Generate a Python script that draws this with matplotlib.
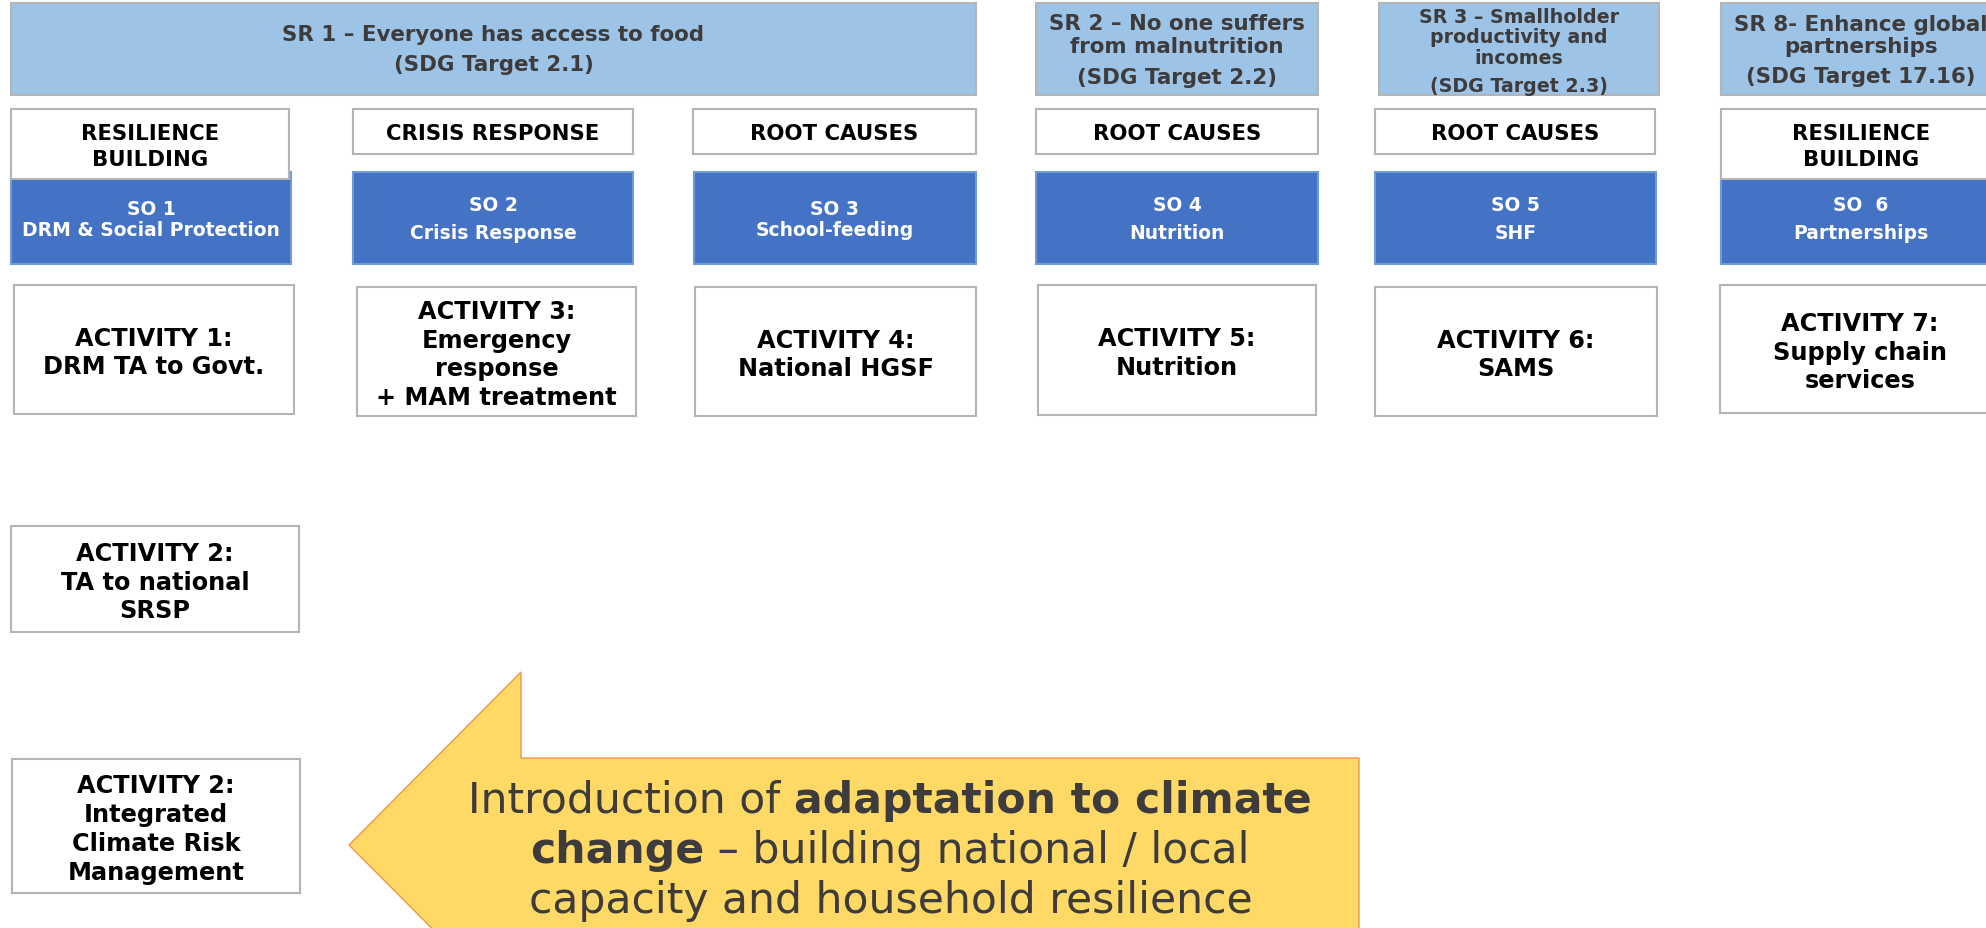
import matplotlib
matplotlib.use("Agg")
import matplotlib.pyplot as plt
from matplotlib.patches import Rectangle, Polygon

plt.rcParams['font.family'] = ['DejaVu Sans']

# ---------------- content ----------------
sr_titles = [
    ["SR 1 – Everyone has access to food", "(SDG Target 2.1)"],
    ["SR 2 – No one suffers", "from malnutrition", "(SDG Target 2.2)"],
    ["SR 3 – Smallholder", "productivity and", "incomes", "(SDG Target 2.3)"],
    ["SR 8- Enhance global", "partnerships", "(SDG Target 17.16)"],
]
focus_labels = [
    ["RESILIENCE", "BUILDING"],
    ["CRISIS RESPONSE"],
    ["ROOT CAUSES"],
    ["ROOT CAUSES"],
    ["ROOT CAUSES"],
    ["RESILIENCE", "BUILDING"],
]
so_labels = [
    ["SO 1", "DRM & Social Protection"],
    ["SO 2", "Crisis Response"],
    ["SO 3", "School-feeding"],
    ["SO 4", "Nutrition"],
    ["SO 5", "SHF"],
    ["SO  6", "Partnerships"],
]
activity_labels = [
    ["ACTIVITY 1:", "DRM TA to Govt."],
    ["ACTIVITY 3:", "Emergency", "response", "+ MAM treatment"],
    ["ACTIVITY 4:", "National HGSF"],
    ["ACTIVITY 5:", "Nutrition"],
    ["ACTIVITY 6:", "SAMS"],
    ["ACTIVITY 7:", "Supply chain", "services"],
]
extra_activity_labels = [
    ["ACTIVITY 2:", "TA to national", "SRSP"],
    ["ACTIVITY 2:", "Integrated", "Climate Risk", "Management"],
]
arrow_lines = [
    [("Introduction of ", "normal"), ("adaptation to climate", "bold")],
    [("change", "bold"), (" – building national / local", "normal")],
    [("capacity and household resilience", "normal")],
]

# ---------------- layout (pixel space) ----------------
W, H = 1986, 929
sr_boxes = [(11, 976), (1036, 1318), (1379, 1659), (1721, 2001)]
sr_y = (4, 96)
sr_sizes = [15.4, 15.4, 13.7, 15.4]
sr_steps = [(22.5, 30), (22.5, 31), (20.5, 28), (22, 30)]
sr_centers = [50, 51, 51.5, 51]

focus_boxes = [(11, 289), (353, 633), (693, 976), (1036, 1318), (1375, 1655), (1721, 2001)]
focus_bottoms = [180, 155, 155, 155, 155, 180]
focus_top = 110

so_boxes = [(11, 291), (353, 633), (694, 976), (1036, 1318), (1375, 1656), (1721, 2001)]
so_y = (173, 265)
so_steps = [21, 28, 21, 28, 28, 28]

act_boxes = [(14, 294, 286, 415), (357, 636, 288, 417), (695, 976, 288, 417),
             (1038, 1316, 286, 416), (1375, 1657, 288, 417), (1720, 2000, 286, 414)]
extra_boxes = [(11, 299, 527, 633), (12, 300, 760, 894)]

C_SR = "#9DC3E6"
C_SO = "#4472C4"
C_SO_EDGE = "#6F9BD8"
C_GRAY = "#B4B4B4"
C_DARK = "#3D3B3B"
C_ARROW = "#FFD966"
C_ARROW_EDGE = "#F0964A"

fig = plt.figure(figsize=(W / 100, H / 100), dpi=100)
ax = fig.add_axes([0, 0, 1, 1])
ax.set_xlim(0, W)
ax.set_ylim(H, 0)
ax.axis("off")


def box(x0, x1, y0, y1, fc, ec, z=1, lw=1.5):
    ax.add_patch(Rectangle((x0, y0), x1 - x0, y1 - y0, facecolor=fc,
                           edgecolor=ec, linewidth=lw, zorder=z))


def lines_text(lines, cx, cy, step, size, color, z, gap=None):
    ys = []
    y = 0.0
    for i in range(len(lines)):
        ys.append(y)
        if i < len(lines) - 1:
            y += (gap if (gap is not None and i == len(lines) - 2) else step)
    mid = (ys[0] + ys[-1]) / 2
    for ln, yy in zip(lines, ys):
        ax.text(cx, cy + yy - mid, ln, ha="center", va="center",
                fontsize=size, fontweight="bold", color=color, zorder=z)


# SR boxes
for (x0, x1), lines, sz, (st, gp), cy in zip(sr_boxes, sr_titles, sr_sizes,
                                              sr_steps, sr_centers):
    box(x0, x1, sr_y[0], sr_y[1], C_SR, C_GRAY, z=1)
    lines_text(lines, (x0 + x1) / 2, cy, st, sz, C_DARK, 2, gap=gp)

# SO boxes
for (x0, x1), lines, st in zip(so_boxes, so_labels, so_steps):
    box(x0, x1, so_y[0], so_y[1], C_SO, C_SO_EDGE, z=1)
    lines_text(lines, (x0 + x1) / 2, (so_y[0] + so_y[1]) / 2 + 0.5, st, 13.5, "white", 2)

# focus boxes (drawn over SO boxes)
for (x0, x1), yb, lines in zip(focus_boxes, focus_bottoms, focus_labels):
    box(x0, x1, focus_top, yb, "white", C_GRAY, z=3)
    lines_text(lines, (x0 + x1) / 2, (focus_top + yb) / 2 + 1.5, 26, 15.3, "black", 4)

# activity boxes
for (x0, x1, y0, y1), lines in zip(act_boxes + extra_boxes,
                                    activity_labels + extra_activity_labels):
    box(x0, x1, y0, y1, "white", C_GRAY, z=1)
    lines_text(lines, (x0 + x1) / 2, (y0 + y1) / 2 + 2.5, 28.7, 17.3, "black", 2)

# arrow
tip = (349, 846)
notch_x, head_top, shaft_top, shaft_right = 521, 673, 759, 1359
half_head = tip[1] - head_top
half_shaft = tip[1] - shaft_top
arrow_pts = [tip, (notch_x, tip[1] - half_head), (notch_x, tip[1] - half_shaft),
             (shaft_right, tip[1] - half_shaft), (shaft_right, tip[1] + half_shaft),
             (notch_x, tip[1] + half_shaft), (notch_x, tip[1] + half_head)]
ax.add_patch(Polygon(arrow_pts, closed=True, facecolor=C_ARROW,
                     edgecolor=C_ARROW_EDGE, linewidth=1.0, zorder=1))

renderer = fig.canvas.get_renderer()


def seg_width(s, weight, size):
    t1 = ax.text(0, 0, "x" + s + "x", fontsize=size, fontweight=weight)
    t2 = ax.text(0, 0, "xx", fontsize=size, fontweight=weight)
    w = t1.get_window_extent(renderer).width - t2.get_window_extent(renderer).width
    t1.remove(); t2.remove()
    return w


arrow_size = 30.6
arrow_cx = 890
arrow_baselines = [813, 863, 913]
for segs, yy in zip(arrow_lines, arrow_baselines):
    widths = [seg_width(s, w, arrow_size) for s, w in segs]
    x = arrow_cx - sum(widths) / 2
    for (s, w), wd in zip(segs, widths):
        ax.text(x, yy, s, ha="left", va="baseline", fontsize=arrow_size,
                fontweight=w, color=C_DARK, zorder=2)
        x += wd

fig.savefig("out.png", dpi=100)
